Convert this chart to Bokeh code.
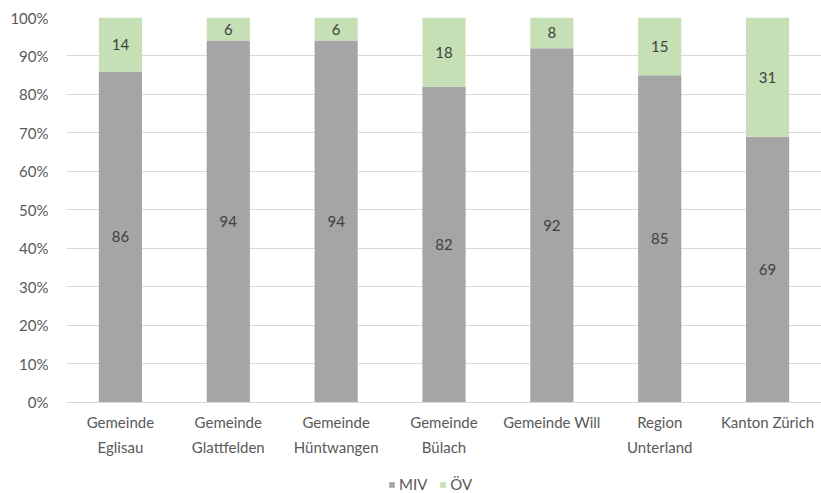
from bokeh.plotting import figure
from bokeh.models import ColumnDataSource, FactorRange, PrintfTickFormatter, Legend, LegendItem, FixedTicker
from bokeh.embed import file_html
from bokeh.resources import INLINE
from bokeh.core.properties import value

# Modal split per area (percent)
categories = ["Gemeinde\nEglisau", "Gemeinde\nGlattfelden", "Gemeinde\nHüntwangen",
              "Gemeinde\nBülach", "Gemeinde Will", "Region\nUnterland", "Kanton Zürich"]
miv = [86, 94, 94, 82, 92, 85, 69]
oev = [14, 6, 6, 18, 8, 15, 31]
series_names = ["MIV", "ÖV"]
colors = ["#A5A5A5", "#C5E0B4"]
y_ticks = list(range(0, 101, 10))

FONT = "Lato"
TEXT_COL = "#595959"

source = ColumnDataSource(dict(
    cat=categories,
    MIV=miv,
    OEV=oev,
    miv_mid=[m / 2 for m in miv],
    oev_mid=[m + o / 2 for m, o in zip(miv, oev)],
    miv_lbl=[str(m) for m in miv],
    oev_lbl=[str(o) for o in oev],
))

# the frame reaches down to the page bottom so the category labels and the
# legend are drawn inside it, beneath the 0% baseline
p = figure(x_range=FactorRange(*categories), y_range=(-23.64, 100),
           frame_width=755, frame_height=476, output_backend="svg", toolbar_location=None,
           min_border_left=66, min_border_right=0, min_border_top=17, min_border_bottom=0)
p.outline_line_color = None
p.background_fill_color = "white"
p.border_fill_color = "white"

r = p.vbar_stack(["MIV", "OEV"], x="cat", width=0.4, color=colors, source=source,
                 line_color=None)

for ycol, tcol in (("miv_mid", "miv_lbl"), ("oev_mid", "oev_lbl")):
    p.text(x="cat", y=ycol, text=tcol, source=source, text_align="center",
           text_baseline="middle", text_font=value(FONT), text_font_size="15px",
           text_color="#404040")

p.yaxis.ticker = FixedTicker(ticks=y_ticks)
p.yaxis.formatter = PrintfTickFormatter(format="%d%%")
p.yaxis.axis_line_color = None
p.yaxis.major_tick_line_color = None
p.yaxis.minor_tick_line_color = None
p.yaxis.major_label_text_font = FONT
p.yaxis.major_label_text_font_size = "15px"
p.yaxis.major_label_text_color = TEXT_COL
p.yaxis.major_label_standoff = 12

p.xaxis.fixed_location = 0
p.xaxis.axis_line_color = "#D9D9D9"
p.xaxis.major_tick_line_color = None
p.xaxis.minor_tick_line_color = None
p.xaxis.major_tick_out = 0
p.xaxis.minor_tick_out = 0
p.xaxis.axis_label_standoff = 0
p.xaxis.major_label_text_font = FONT
p.xaxis.major_label_text_font_size = "15px"
p.xaxis.major_label_text_color = TEXT_COL
p.xaxis.major_label_standoff = 11
p.xaxis.major_label_text_line_height = 1.35

p.xgrid.grid_line_color = None
p.ygrid.grid_line_color = "#D9D9D9"
p.ygrid.grid_line_width = 1

legend = Legend(items=[LegendItem(label=series_names[0], renderers=[r[0]]),
                       LegendItem(label=series_names[1], renderers=[r[1]])],
                orientation="horizontal", location=(322, 0),
                label_text_font=FONT, label_text_font_size="15px",
                label_text_color=TEXT_COL, glyph_width=7, glyph_height=7,
                label_height=14, spacing=12, label_standoff=4, border_line_color=None,
                background_fill_alpha=0, margin=0, padding=2)
p.add_layout(legend)

open("out.html", "w").write(file_html(p, INLINE))
